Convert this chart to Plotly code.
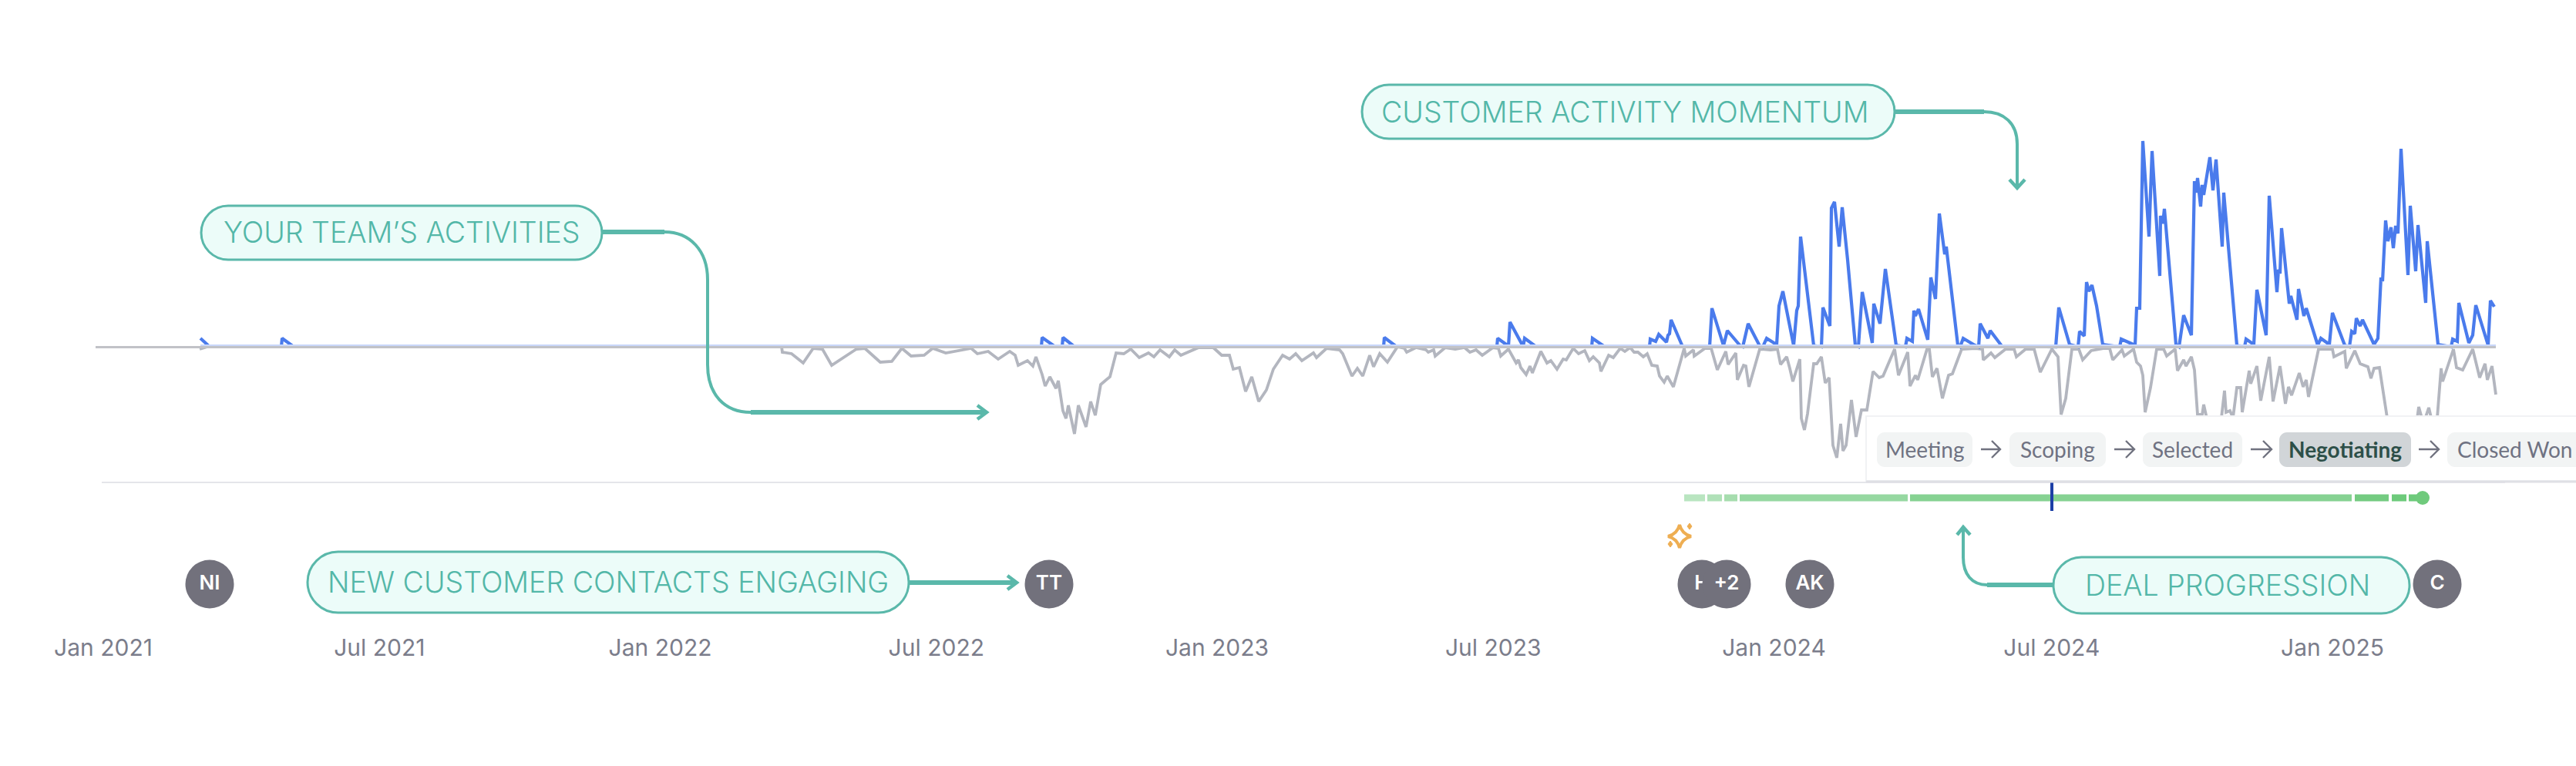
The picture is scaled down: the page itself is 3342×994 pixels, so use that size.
import pandas as pd
import plotly.graph_objects as go

# timeline is sampled in steps, 2892 steps = Jan 2021 -> Jan 2025
origin = pd.Timestamp('2021-01-01')
hours_per_step = 1461 * 24 / 2892


def to_date(steps):
    return [origin + pd.Timedelta(hours=s * hours_per_step) for s in steps]


tick_dates = ['2021-01-01', '2021-07-01', '2022-01-01', '2022-07-01', '2023-01-01',
              '2023-07-01', '2024-01-01', '2024-07-01', '2025-01-01']
tick_labels = ['Jan 2021', 'Jul 2021', 'Jan 2022', 'Jul 2022', 'Jan 2023',
               'Jul 2023', 'Jan 2024', 'Jul 2024', 'Jan 2025']

# customer activity
customer_t = [126, 138, 231, 232, 247, 1217, 1218, 1235, 1244, 1245, 1260, 1661, 1662, 1678,
              1808, 1809, 1823, 1825, 1842, 1844, 1859, 1931, 1932, 1948, 2006, 2007, 2014, 2018,
              2028, 2030, 2032, 2034, 2049, 2084, 2087, 2102, 2107, 2124, 2127, 2134, 2149, 2153,
              2158, 2171, 2174, 2179, 2193, 2197, 2199, 2202, 2219, 2229, 2231, 2240, 2242, 2246,
              2252, 2256, 2263, 2273, 2277, 2282, 2295, 2297, 2305, 2312, 2326, 2338, 2340, 2347,
              2349, 2351, 2355, 2367, 2371, 2377, 2382, 2389, 2391, 2406, 2409, 2413, 2428, 2433,
              2435, 2445, 2448, 2463, 2533, 2537, 2551, 2562, 2564, 2570, 2573, 2576, 2580, 2586,
              2594, 2616, 2618, 2636, 2638, 2642, 2646, 2654, 2658, 2668, 2669, 2672, 2674, 2689,
              2693, 2699, 2709, 2713, 2715, 2717, 2721, 2723, 2725, 2733, 2737, 2741, 2749, 2751,
              2768, 2778, 2780, 2790, 2794, 2806, 2810, 2820, 2822, 2824, 2826, 2836, 2838, 2846,
              2848, 2855, 2858, 2873, 2877, 2888, 2892, 2908, 2914, 2917, 2921, 2923, 2928, 2931,
              2946, 2951, 2955, 2957, 2961, 2964, 2968, 2971, 2974, 2977, 2981, 2990, 2993, 3000,
              3003, 3013, 3015, 3029, 3046, 3048, 3054, 3056, 3069, 3074, 3078, 3094, 3097, 3102]
customer_activity = [11, 0, 0, 11, 0, 0, 12, 0, 0, 12, 0, 0, 12, 0,
                     0, 11, 1, 32, 0.5, 11, 0, 0, 11, 0, 0, 10, 7, 16,
                     6, 15, 17, 35, 0, 0, 50, 1.5, 21, 1, 0, 30, 1, 0,
                     11, 2.7, 53, 72, 1.7, 47, 53, 143, 1.7, 0, 51, 27, 180, 188,
                     130, 181, 113, 1.7, 0, 71, 5, 56, 30, 101, 2, 0, 11, 7,
                     47, 40, 49, 9, 90, 62, 173, 120, 130, 2, 0, 11, 2, 0,
                     30, 11, 21, 1, 0, 51, 3, 0, 20, 14, 84, 72, 80, 53,
                     3, 0, 10, 2, 50, 50, 267, 143, 254, 92, 170, 160, 179, 3,
                     0, 41, 15, 215, 200, 219, 182, 210, 197, 246, 203, 243, 130, 200,
                     2, 0, 10, 3, 74, 15, 196, 71, 100, 95, 154, 56, 66, 35,
                     75, 40, 50, 2, 11, 3, 44, 2, 0, 20, 17, 37, 27, 35,
                     3, 11, 90, 85, 164, 137, 155, 128, 157, 147, 257, 93, 183, 98,
                     158, 57, 137, 3, 0, 10, 7, 57, 5, 15, 54, 2, 60, 52]

# team activity, drawn below the zero line
team_t = [125, 135, 880, 881, 893, 908, 921, 933, 945, 962, 977, 988, 1008, 1023, 1036, 1048,
          1065, 1076, 1093, 1126, 1134, 1148, 1161, 1176, 1183, 1187, 1199, 1206, 1210, 1218,
          1222, 1228, 1236, 1239, 1245, 1249, 1252, 1260, 1265, 1275, 1281, 1287, 1294, 1301,
          1306, 1314, 1324, 1333, 1344, 1356, 1363, 1371, 1383, 1390, 1398, 1421, 1440, 1451,
          1461, 1466, 1474, 1482, 1490, 1499, 1509, 1518, 1530, 1539, 1547, 1555, 1570, 1574,
          1587, 1604, 1608, 1620, 1627, 1634, 1643, 1648, 1656, 1666, 1679, 1688, 1691, 1703,
          1716, 1719, 1726, 1728, 1741, 1754, 1766, 1773, 1781, 1789, 1803, 1810, 1813, 1823,
          1833, 1836, 1839, 1846, 1851, 1854, 1865, 1873, 1878, 1886, 1894, 1898, 1907, 1914,
          1922, 1928, 1933, 1941, 1943, 1953, 1959, 1968, 1974, 1981, 1986, 1991, 1998, 2003,
          2009, 2016, 2019, 2025, 2029, 2037, 2051, 2053, 2063, 2064, 2078, 2086, 2089, 2094,
          2105, 2108, 2118, 2120, 2128, 2131, 2135, 2149, 2163, 2172, 2176, 2184, 2188, 2192,
          2201, 2203, 2207, 2211, 2219, 2223, 2229, 2234, 2239, 2244, 2249, 2254, 2257, 2261,
          2268, 2274, 2281, 2288, 2296, 2304, 2309, 2324, 2329, 2341, 2344, 2351, 2354, 2366,
          2369, 2373, 2379, 2386, 2394, 2399, 2411, 2429, 2438, 2439, 2449, 2454, 2468, 2479,
          2482, 2494, 2505, 2513, 2528, 2536, 2540, 2546, 2554, 2563, 2568, 2579, 2596, 2603,
          2607, 2619, 2622, 2634, 2638, 2643, 2646, 2649, 2656, 2664, 2673, 2677, 2688, 2691,
          2699, 2702, 2709, 2713, 2717, 2723, 2725, 2729, 2736, 2744, 2748, 2752, 2754, 2759,
          2763, 2768, 2773, 2775, 2784, 2786, 2794, 2799, 2810, 2815, 2824, 2831, 2835, 2839,
          2849, 2854, 2858, 2861, 2874, 2892, 2894, 2908, 2910, 2921, 2928, 2938, 2942, 2946,
          2953, 2959, 2963, 2971, 2991, 3001, 3004, 3010, 3017, 3022, 3028, 3033, 3035, 3049,
          3053, 3061, 3074, 3083, 3090, 3093, 3099, 3104]
team_activity = [3, 0, 0, 7, 9, 21, 2, 3, 24, 13, 3, 2, 20, 19, 2, 12,
                 11, 2, 8, 2, 9, 6, 16, 6, 11, 24, 18, 25, 13, 36,
                 51, 39, 54, 44, 83, 93, 76, 113, 76, 104, 71, 89, 49, 43,
                 39, 8, 9, 3, 14, 8, 13, 4, 13, 4, 11, 1, 1, 11,
                 11, 29, 27, 58, 39, 71, 56, 29, 11, 16, 9, 18, 8, 14,
                 2, 4, 9, 38, 28, 38, 11, 26, 9, 20, 0, 2, 7, 1,
                 4, 7, 4, 12, 1, 3, 1, 7, 4, 11, 1, 2, 12, 3,
                 21, 17, 27, 36, 25, 34, 6, 21, 18, 29, 16, 17, 2, 9,
                 5, 18, 13, 21, 32, 11, 14, 2, 6, 1, 7, 7, 13, 9,
                 24, 25, 38, 46, 38, 52, 2, 12, 4, 12, 2, 2, 13, 30,
                 6, 23, 8, 43, 24, 25, 52, 3, 4, 3, 23, 13, 28, 45,
                 16, 93, 108, 87, 22, 22, 13, 47, 40, 128, 144, 100, 135, 128,
                 69, 117, 82, 82, 32, 40, 38, 3, 37, 7, 51, 37, 43, 3,
                 3, 39, 28, 67, 37, 35, 3, 2, 3, 17, 8, 14, 3, 3,
                 13, 3, 3, 33, 3, 13, 88, 67, 3, 3, 17, 5, 2, 2,
                 17, 4, 12, 3, 20, 25, 37, 85, 53, 3, 3, 12, 3, 31,
                 17, 25, 13, 30, 88, 88, 75, 93, 110, 105, 92, 57, 85, 83,
                 92, 53, 53, 85, 31, 48, 25, 70, 13, 71, 25, 74, 52, 63,
                 34, 52, 43, 65, 3, 3, 13, 6, 28, 5, 22, 26, 41, 28,
                 27, 70, 92, 115, 120, 100, 78, 100, 79, 100, 92, 28, 45, 3,
                 27, 30, 3, 40, 22, 43, 25, 62]

# deal progression stages, start and end on the timeline
stage_start = [2051, 2081, 2103, 2123, 2344, 2921, 2969, 2991]
stage_end = [2078, 2100, 2120, 2341, 2917, 2965, 2988, 3009]
stage_colors = ['#b9e5c0', '#b0e1b8', '#a6ddae', '#96d8a1', '#86d292', '#74cb81', '#6dca7b', '#6dca7b']
today_t = 2528

avatar_labels = ['NI', 'TT', 'H', '+2', 'AK', 'C']
avatar_t = [138, 1227, 2074, 2106, 2214, 3028]

stage_names = ['Meeting', 'Scoping', 'Selected', 'Negotiating', 'Closed Won']

TEAL = '#5ab8aa'
W, H = 3342, 994
PLOT_H = 812
BASE_Y = 450
FONT = 'Inter'


def px(x):
    return x / W


def py(y):
    return 1 - y / PLOT_H


def path(*cmds):
    # cmds are letters and (x, y) picture points, converted to paper space
    out = []
    for c in cmds:
        if isinstance(c, str):
            out.append(c)
        else:
            out.append(f'{px(c[0]):.6f},{py(c[1]):.6f}')
    return ' '.join(out)


def pill(x0, y0, x1, y1, r):
    k = r * 0.45
    return path('M', (x0 + r, y0), 'L', (x1 - r, y0),
                'C', (x1 - k, y0), (x1, y0 + k), (x1, y0 + r),
                'L', (x1, y1 - r),
                'C', (x1, y1 - k), (x1 - k, y1), (x1 - r, y1),
                'L', (x0 + r, y1),
                'C', (x0 + k, y1), (x0, y1 - k), (x0, y1 - r),
                'L', (x0, y0 + r),
                'C', (x0, y0 + k), (x0 + k, y0), (x0 + r, y0), 'Z')


fig = go.Figure()

fig.add_trace(go.Scatter(x=to_date(team_t), y=[-v for v in team_activity], mode='lines',
                         line=dict(color='#b3b6bf', width=3.8), hoverinfo='skip'))
fig.add_trace(go.Scatter(x=to_date(customer_t), y=customer_activity, mode='lines',
                         line=dict(color='#4a7bec', width=4.2), hoverinfo='skip'))
# zero line: pale blue where the customer line sits at zero, grey under it
fig.add_trace(go.Scatter(x=to_date([126, 3104]), y=[1.5, 1.5], mode='lines',
                         line=dict(color='#c9d7fa', width=3), hoverinfo='skip'))
fig.add_trace(go.Scatter(x=to_date([-10, 3104]), y=[-0.5, -0.5], mode='lines',
                         line=dict(color='#c1c2c7', width=3), hoverinfo='skip'))

# deal progression bar
for s, e, c in zip(stage_start, stage_end, stage_colors):
    fig.add_trace(go.Scatter(x=to_date([s, e]), y=[BASE_Y - 646] * 2, mode='lines',
                             line=dict(color=c, width=9), hoverinfo='skip'))
fig.add_trace(go.Scatter(x=to_date([stage_end[-1]]), y=[BASE_Y - 646], mode='markers',
                         marker=dict(color='#6fca7c', size=18), hoverinfo='skip'))
fig.add_trace(go.Scatter(x=to_date([today_t, today_t]), y=[BASE_Y - 624, BASE_Y - 663], mode='lines',
                         line=dict(color='#1c3fa6', width=4), hoverinfo='skip'))

# one trace per avatar so that a later circle covers the text of the one before
for label, t in zip(avatar_labels, avatar_t):
    fig.add_trace(go.Scatter(x=to_date([t]), y=[BASE_Y - 758], mode='markers+text',
                             marker=dict(color='#72717c', size=63), text=[label],
                             textposition='middle center',
                             textfont=dict(family=FONT, size=26, color='white', weight=600),
                             hoverinfo='skip'))

shapes = []
annotations = []


def stroke(d, width):
    shapes.append(dict(type='path', path=d, xref='paper', yref='paper',
                       line=dict(color=TEAL, width=width)))


# callouts: text, box, text size, text nudge
callouts = [
    ("YOUR TEAM’S ACTIVITIES", 261, 267, 781, 337, 37.5, 0),
    ('CUSTOMER ACTIVITY MOMENTUM', 1767, 110, 2458, 180, 37.5, -5),
    ('NEW CUSTOMER CONTACTS ENGAGING', 399, 716, 1179, 795, 37.5, 0),
    ('DEAL PROGRESSION', 2664, 723, 3126, 796, 37.5, -5),
]
for text, x0, y0, x1, y1, size, nudge in callouts:
    shapes.append(dict(type='path', path=pill(x0, y0, x1, y1, (y1 - y0) / 2), xref='paper', yref='paper',
                       fillcolor='#ecfcf9', line=dict(color=TEAL, width=3)))
    annotations.append(dict(text=text, x=px((x0 + x1) / 2 + nudge), y=py((y0 + y1) / 2), xref='paper', yref='paper',
                            showarrow=False, xanchor='center', yanchor='middle',
                            font=dict(family=FONT, size=size, color='#53b7a8', weight=300)))

# your team connector
stroke(path('M', (782, 301), 'L', (862, 301)), 6)
stroke(path('M', (862, 301), 'C', (895, 301), (918, 325), (918, 363), 'L', (918, 473),
            'C', (918, 512), (940, 535), (974, 535)), 4)
stroke(path('M', (974, 535), 'L', (1278, 535)), 6)
stroke(path('M', (1268, 526), 'L', (1280, 535), 'L', (1268, 544)), 4.5)
# momentum connector
stroke(path('M', (2459, 145), 'L', (2574, 145)), 6)
stroke(path('M', (2574, 145), 'C', (2600, 145), (2617, 160), (2617, 187), 'L', (2617, 242)), 4)
stroke(path('M', (2607, 233), 'L', (2617, 244), 'L', (2627, 233)), 4.5)
# new contacts connector
stroke(path('M', (1180, 756), 'L', (1318, 756)), 6)
stroke(path('M', (1307, 747), 'L', (1319, 756), 'L', (1307, 765)), 4.5)
# deal progression connector
stroke(path('M', (2663, 759), 'L', (2578, 759)), 6)
stroke(path('M', (2578, 759), 'C', (2558, 759), (2547, 745), (2547, 723), 'L', (2547, 685)), 4)
stroke(path('M', (2539, 694), 'L', (2547, 684), 'L', (2556, 694)), 4.5)

# sparkle icon
sx, sy, sr = 2179, 696, 15
sparkle = path('M', (sx, sy - sr), 'Q', (sx + 3, sy - 3), (sx + sr, sy),
               'Q', (sx + 3, sy + 3), (sx, sy + sr),
               'Q', (sx - 3, sy + 3), (sx - sr, sy),
               'Q', (sx - 3, sy - 3), (sx, sy - sr), 'Z')
shapes.append(dict(type='path', path=sparkle, xref='paper', yref='paper', line=dict(color='#eeae52', width=4)))
for dx, dy in [(2192, 683), (2167, 706)]:
    shapes.append(dict(type='path', xref='paper', yref='paper', fillcolor='#eeae52',
                       path=path('M', (dx, dy - 4), 'L', (dx + 3, dy), 'L', (dx, dy + 4), 'L', (dx - 3, dy), 'Z'),
                       line=dict(color='#eeae52', width=1)))

# hairline under the chart
shapes.append(dict(type='line', xref='paper', yref='paper', layer='below',
                   x0=px(132), x1=px(3250), y0=py(626), y1=py(626), line=dict(color='#e4e5ea', width=2)))

# stage popover
shapes.append(dict(type='rect', xref='paper', yref='paper', x0=px(2421), x1=px(3350), y0=py(624), y1=py(540),
                   fillcolor='white', line=dict(color='#f1f2f4', width=2)))
shapes.append(dict(type='line', xref='paper', yref='paper', x0=px(2421), x1=px(3342), y0=py(625), y1=py(625),
                   line=dict(color='#dfe0e5', width=3)))

chip_x0 = [2435, 2607, 2780, 2957, 3175]
chip_x1 = [2559, 2732, 2909, 3128, 3360]
for i, name in enumerate(stage_names):
    active = name == 'Negotiating'
    shapes.append(dict(type='path', xref='paper', yref='paper',
                       path=pill(chip_x0[i], 561, chip_x1[i], 606, 10),
                       fillcolor='#d1d5d8' if active else '#f2f4f4', line=dict(width=0)))
    cx = (chip_x0[i] + chip_x1[i]) / 2 if i < 4 else 3262
    annotations.append(dict(text=f'<b>{name}</b>' if active else name, x=px(cx), y=py(583),
                            xref='paper', yref='paper', showarrow=False, xanchor='center', yanchor='middle',
                            font=dict(family='Lato', size=28, color='#2d4f48' if active else '#6f7282')))
for ax0, ax1 in [(2570, 2595), (2743, 2769), (2920, 2947), (3138, 3164)]:
    shapes.append(dict(type='path', xref='paper', yref='paper', line=dict(color='#70727f', width=2.4),
                       path=path('M', (ax0, 583), 'L', (ax1, 583), 'M', (ax1 - 11, 572), 'L', (ax1, 583),
                                 'L', (ax1 - 11, 594))))

fig.update_layout(
    width=W, height=H,
    margin=dict(l=0, r=0, t=0, b=H - PLOT_H),
    paper_bgcolor='white', plot_bgcolor='white',
    showlegend=False,
    shapes=shapes,
    annotations=annotations,
    xaxis=dict(type='date', range=to_date([-134, 3208]), tickmode='array', tickvals=tick_dates, ticktext=tick_labels,
               showgrid=False, zeroline=False, showline=False, ticks='outside', ticklen=2, tickcolor='white',
               tickfont=dict(family=FONT, size=30, color='#7b7d8b')),
    yaxis=dict(range=[BASE_Y - PLOT_H, BASE_Y], visible=False),
)

fig.write_html("out.html", post_script="document.body.style.margin='0';", config=dict(displayModeBar=False))
